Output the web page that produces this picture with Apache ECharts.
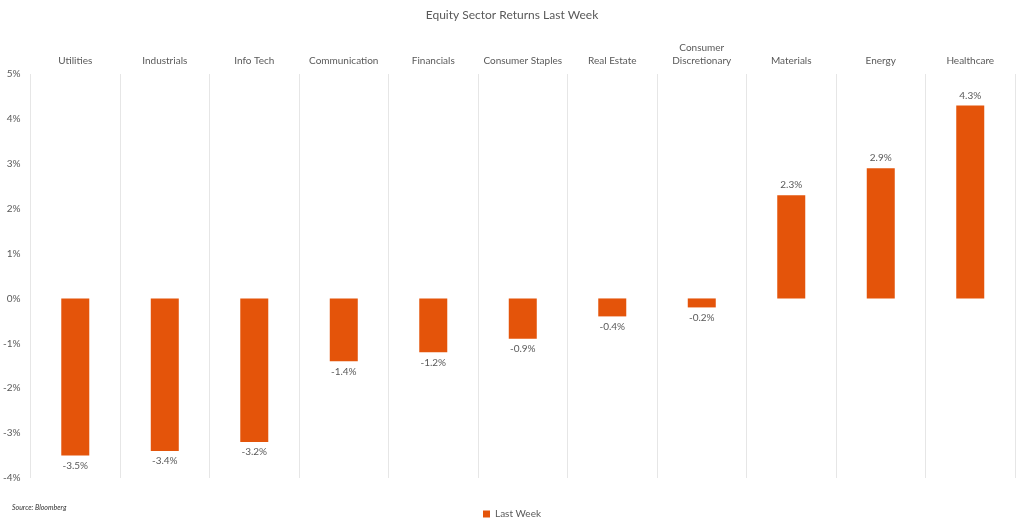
<!DOCTYPE html>
<html><head><meta charset="utf-8">
<script src="https://cdn.jsdelivr.net/npm/echarts@6/dist/echarts.min.js"></script>
<style>html,body{margin:0;padding:0;background:#fff}#c{width:1024px;height:527px}</style>
</head><body><div id="c"></div>
<script>
var categories = ['Utilities','Industrials','Info Tech','Communication','Financials','Consumer Staples','Real Estate','Consumer\nDiscretionary','Materials','Energy','Healthcare'];
var lastWeek = [-3.5,-3.4,-3.2,-1.4,-1.2,-0.9,-0.4,-0.2,2.3,2.9,4.3];
var yTicks = {min:-4, max:5, interval:1};
var FONT = 'Lato, "Open Sans", sans-serif';
var chart = echarts.init(document.getElementById('c'));
chart.setOption({
  animation:false,
  backgroundColor:'#fff',
  textStyle:{fontFamily:FONT},
  title:[
    {text:'Equity Sector Returns Last Week', left:'center', top:4,
     textStyle:{fontSize:12, fontWeight:'normal', color:'#595959', fontFamily:FONT}},
    {text:'Source: Bloomberg', left:7, top:499,
     textStyle:{fontSize:7, fontStyle:'italic', fontWeight:'normal', color:'#333', fontFamily:FONT}}
  ],
  legend:{bottom:3, left:'center', itemWidth:7, itemHeight:7, icon:'rect', itemGap:4,
    textStyle:{fontSize:10, color:'#595959', fontFamily:FONT}, data:['Last Week']},
  grid:{left:30, right:9, top:74, bottom:49},
  xAxis:{type:'category', position:'top', data:categories,
    axisLine:{show:false}, axisTick:{show:false},
    axisLabel:{fontSize:10, color:'#595959', margin:7, interval:0, lineHeight:13, fontFamily:FONT},
    splitLine:{show:true, lineStyle:{color:'#e6e6e6', width:1}}},
  yAxis:{type:'value', min:yTicks.min, max:yTicks.max, interval:yTicks.interval,
    axisLine:{show:false}, axisTick:{show:false}, splitLine:{show:false},
    axisLabel:{fontSize:10, color:'#595959', margin:10, formatter:'{value}%', fontFamily:FONT}},
  series:[{
    name:'Last Week', type:'bar', barWidth:28,
    itemStyle:{color:'#E4540A'},
    data:lastWeek.map(function(v){return {value:v, label:{position: v<0?'bottom':'top'}};}),
    label:{show:true, fontSize:10, color:'#595959', distance:5, fontFamily:FONT,
      formatter:function(p){return p.value.toFixed(1)+'%';}}
  }]
});
</script></body></html>
